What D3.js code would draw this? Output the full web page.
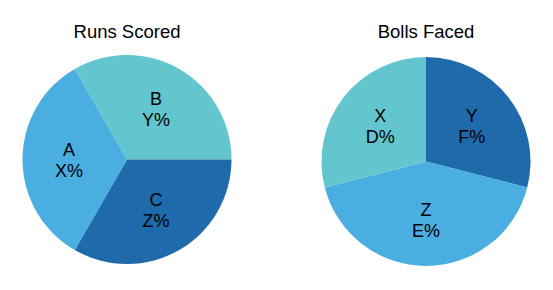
<!DOCTYPE html>
<html>
<head>
<meta charset="utf-8">
<script src="https://cdn.jsdelivr.net/npm/d3@7"></script>
<style>
  body { margin: 0; background: #fff; }
  text { font-family: "Liberation Sans", Arial, sans-serif; fill: #000; }
</style>
</head>
<body>
<div id="chart"></div>
<script>
// Data
const runsNames = ["B", "C", "A"];
const runsPcts = ["Y%", "Z%", "X%"];
const runsValues = [1, 1, 1];
const runsColors = ["#63c6cf", "#1e6aab", "#4aaee0"];

const ballsNames = ["Y", "Z", "X"];
const ballsPcts = ["F%", "E%", "D%"];
const ballsValues = [29, 42, 29];
const ballsColors = ["#1e6aab", "#4aaee0", "#63c6cf"];

const width = 553, height = 290;
const radius = 104.5;

const svg = d3.select("#chart")
  .append("svg")
    .attr("width", width)
    .attr("height", height);

function drawPie(cx, cy, title, names, pcts, values, colors, startDeg) {
  const g = svg.append("g")
      .attr("transform", `translate(${cx},${cy})`);

  const start = startDeg * Math.PI / 180;
  const pie = d3.pie()
      .sort(null)
      .startAngle(start)
      .endAngle(start + 2 * Math.PI);

  const arc = d3.arc().innerRadius(0).outerRadius(radius);
  const labelArc = d3.arc().innerRadius(58).outerRadius(58);

  const data = values.map((v, i) => ({value: v, name: names[i], pct: pcts[i], color: colors[i]}));
  const arcs = pie.value(d => d.value)(data);

  g.selectAll("path")
    .data(arcs)
    .join("path")
      .attr("d", arc)
      .attr("fill", d => d.data.color);

  const lbl = g.selectAll("text.lbl")
    .data(arcs)
    .join("text")
      .attr("class", "lbl")
      .attr("text-anchor", "middle")
      .attr("font-size", "18px")
      .attr("transform", d => `translate(${labelArc.centroid(d)})`);
  lbl.append("tspan").attr("x", 0).attr("y", -4).text(d => d.data.name);
  lbl.append("tspan").attr("x", 0).attr("y", 17).text(d => d.data.pct);

  svg.append("text")
      .attr("x", cx)
      .attr("y", 37.5)
      .attr("text-anchor", "middle")
      .attr("font-size", "18.5px")
      .text(title);
}

drawPie(127, 159.5, "Runs Scored", runsNames, runsPcts, runsValues, runsColors, -30);
drawPie(426, 161.5, "Bolls Faced", ballsNames, ballsPcts, ballsValues, ballsColors, 0);
</script>
</body>
</html>
